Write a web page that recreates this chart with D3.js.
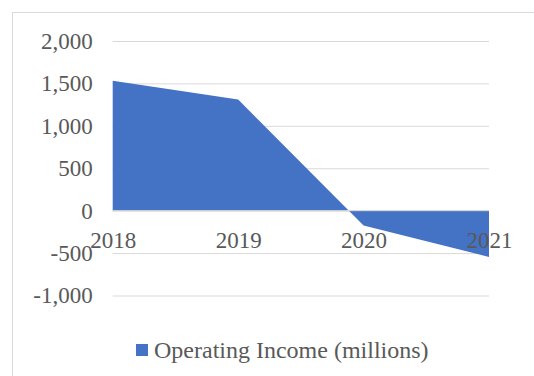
<!DOCTYPE html>
<html>
<head>
<meta charset="utf-8">
<script src="https://cdn.jsdelivr.net/npm/d3@7/dist/d3.min.js"></script>
<style>
  html, body { margin: 0; padding: 0; background: #fff; }
  svg { display: block; }
</style>
</head>
<body>
<svg id="chart" width="534" height="376"></svg>
<script>
const categories = ["2018", "2019", "2020", "2021"];
const seriesName = "Operating Income (millions)";
const values = [1530, 1310, -175, -545];
const yTicks = [-1000, -500, 0, 500, 1000, 1500, 2000];

const W = 534, H = 376;
const svg = d3.select("#chart");
const font = "'Liberation Serif', 'Times New Roman', serif";
const textColor = "#595959";
const gridColor = "#d9d9d9";
const fill = "#4472c4";

// chart border
svg.append("rect")
  .attr("x", 12.5).attr("y", 12.5)
  .attr("width", 600).attr("height", 500)
  .attr("fill", "#fff").attr("stroke", gridColor).attr("stroke-width", 1);

const x = d3.scalePoint().domain(categories).range([112.7, 489]);
const y = d3.scaleLinear().domain([-1000, 2000]).range([295.5, 41]);

const fmt = d3.format(",");
// gridlines
const yAxis = d3.axisLeft(y).tickValues(yTicks)
  .tickSize(-(489 - 112.7)).tickPadding(20)
  .tickFormat(d => fmt(d).replace("\u2212", "-"));
const gy = svg.append("g").attr("transform", "translate(112.7,0)").call(yAxis);
gy.select(".domain").remove();
gy.selectAll(".tick line").attr("stroke", gridColor).attr("stroke-width", 1);
gy.selectAll(".tick text")
  .attr("fill", textColor)
  .style("font-family", font).style("font-size", "23px");

// area
const area = d3.area()
  .x((d, i) => x(categories[i]))
  .y0(y(0))
  .y1(d => y(d));
svg.append("path").datum(values)
  .attr("d", area).attr("fill", fill);

// horizontal axis at zero
const xAxis = d3.axisBottom(x).tickSize(0).tickPadding(21);
const gx = svg.append("g").attr("transform", `translate(0,${y(0)})`).call(xAxis);
gx.select(".domain").attr("stroke", gridColor).attr("stroke-width", 1)
  .attr("d", `M112.7,0H489`);
gx.selectAll(".tick text")
  .attr("fill", textColor)
  .style("font-family", font).style("font-size", "23px");

// legend
const lg = svg.append("g");
lg.append("rect").attr("x", 136).attr("y", 344).attr("width", 12).attr("height", 12).attr("fill", fill);
lg.append("text").attr("x", 154).attr("y", 357.5)
  .attr("fill", textColor)
  .style("font-family", font).style("font-size", "24px")
  .text(seriesName);
</script>
</body>
</html>
